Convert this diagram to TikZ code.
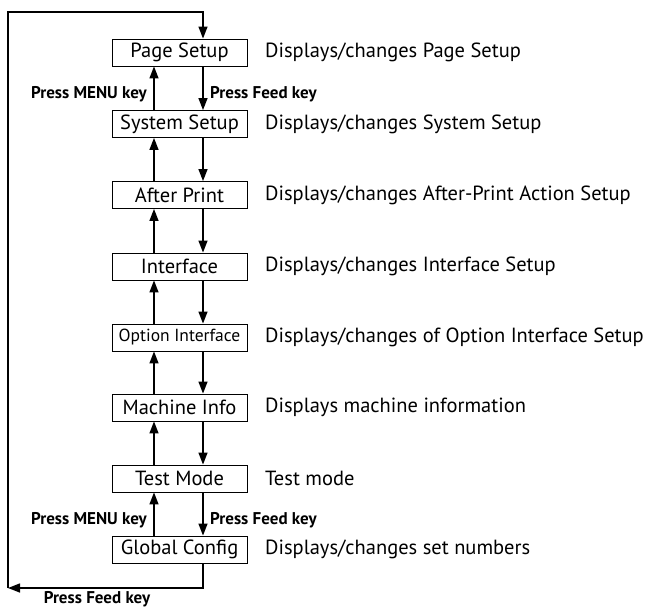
\documentclass[tikz,border=0pt]{standalone}
\usepackage{fontspec}
\setmainfont{PT Sans}
\usetikzlibrary{arrows.meta}

\tikzset{
  box/.style = {draw, line width = 0.9pt, minimum width = 135pt, minimum height = 27pt, inner sep = 0pt, font = \fontsize{20.5}{20.5}\selectfont},
  desc/.style = {anchor = west, inner sep = 0pt, font = \fontsize{20.5}{20.5}\selectfont},
  key/.style = {inner sep = 0pt, font = \bfseries\fontsize{17}{17}\selectfont},
  arr/.style = {-{Triangle[length = 12pt, width = 9pt]}, line width = 1.4pt}
}

\begin{document}
\begin{tikzpicture}[x = 1pt, y = -1pt]
\useasboundingbox (0,0) rectangle (653,609);
\draw (179.5,52.5) node[box](page){Page Setup}
    (179.5,124) node[box](sys){System Setup}
    (179.5,195) node[box](after){After Print}
    (179.5,266.5) node[box](iface){Interface}
    (179.5,337.5) node[box, font = \fontsize{17.5}{17.5}\selectfont](opt){Option Interface}
    (179.5,407.5) node[box](mach){Machine Info}
    (179.5,478.5) node[box](test){Test Mode}
    (179.5,549.5) node[box](glob){Global Config};

\node[desc] (dpage) at (265,52.5) {Displays/changes Page Setup};
\node[desc] (dsys) at (265,124) {Displays/changes System Setup};
\node[desc] (dafter) at (265,195) {Displays/changes After-Print Action Setup};
\node[desc] (diface) at (265,266.5) {Displays/changes Interface Setup};
\node[desc] (dopt) at (265,337.5) {Displays/changes of Option Interface Setup};
\node[desc] (dmach) at (265,407.5) {Displays machine information};
\node[desc] (dtest) at (265,478.5) {Test mode};
\node[desc] (dglob) at (265,549.5) {Displays/changes set numbers};

\coordinate (upx) at (154,0);
\coordinate (dnx) at (203,0);
\coordinate (ltop) at (8,12);
\coordinate (lbot) at (8,588);

% up = MENU key, down = Feed key
\foreach \a/\b in {page/sys, sys/after, after/iface, iface/opt, opt/mach, mach/test, test/glob} {
  \draw[arr] (\b.north -| upx) -- (\a.south -| upx);
  \draw[arr] (\a.south -| dnx) -- (\b.north -| dnx);
}

\node[key, anchor = east] (m1) at (147,94) {Press MENU key};
\node[key, anchor = west] (f1) at (210,94) {Press Feed key};
\node[key, anchor = east] (m2) at (147,520) {Press MENU key};
\node[key, anchor = west] (f2) at (210,520) {Press Feed key};

% return loop
\draw[arr] (glob.south -| dnx) |- (lbot);
\draw[arr] (lbot) -- (ltop) -| (page.north -| dnx);
\node[key] (f3) at (97,599) {Press Feed key};
\end{tikzpicture}
\end{document}
